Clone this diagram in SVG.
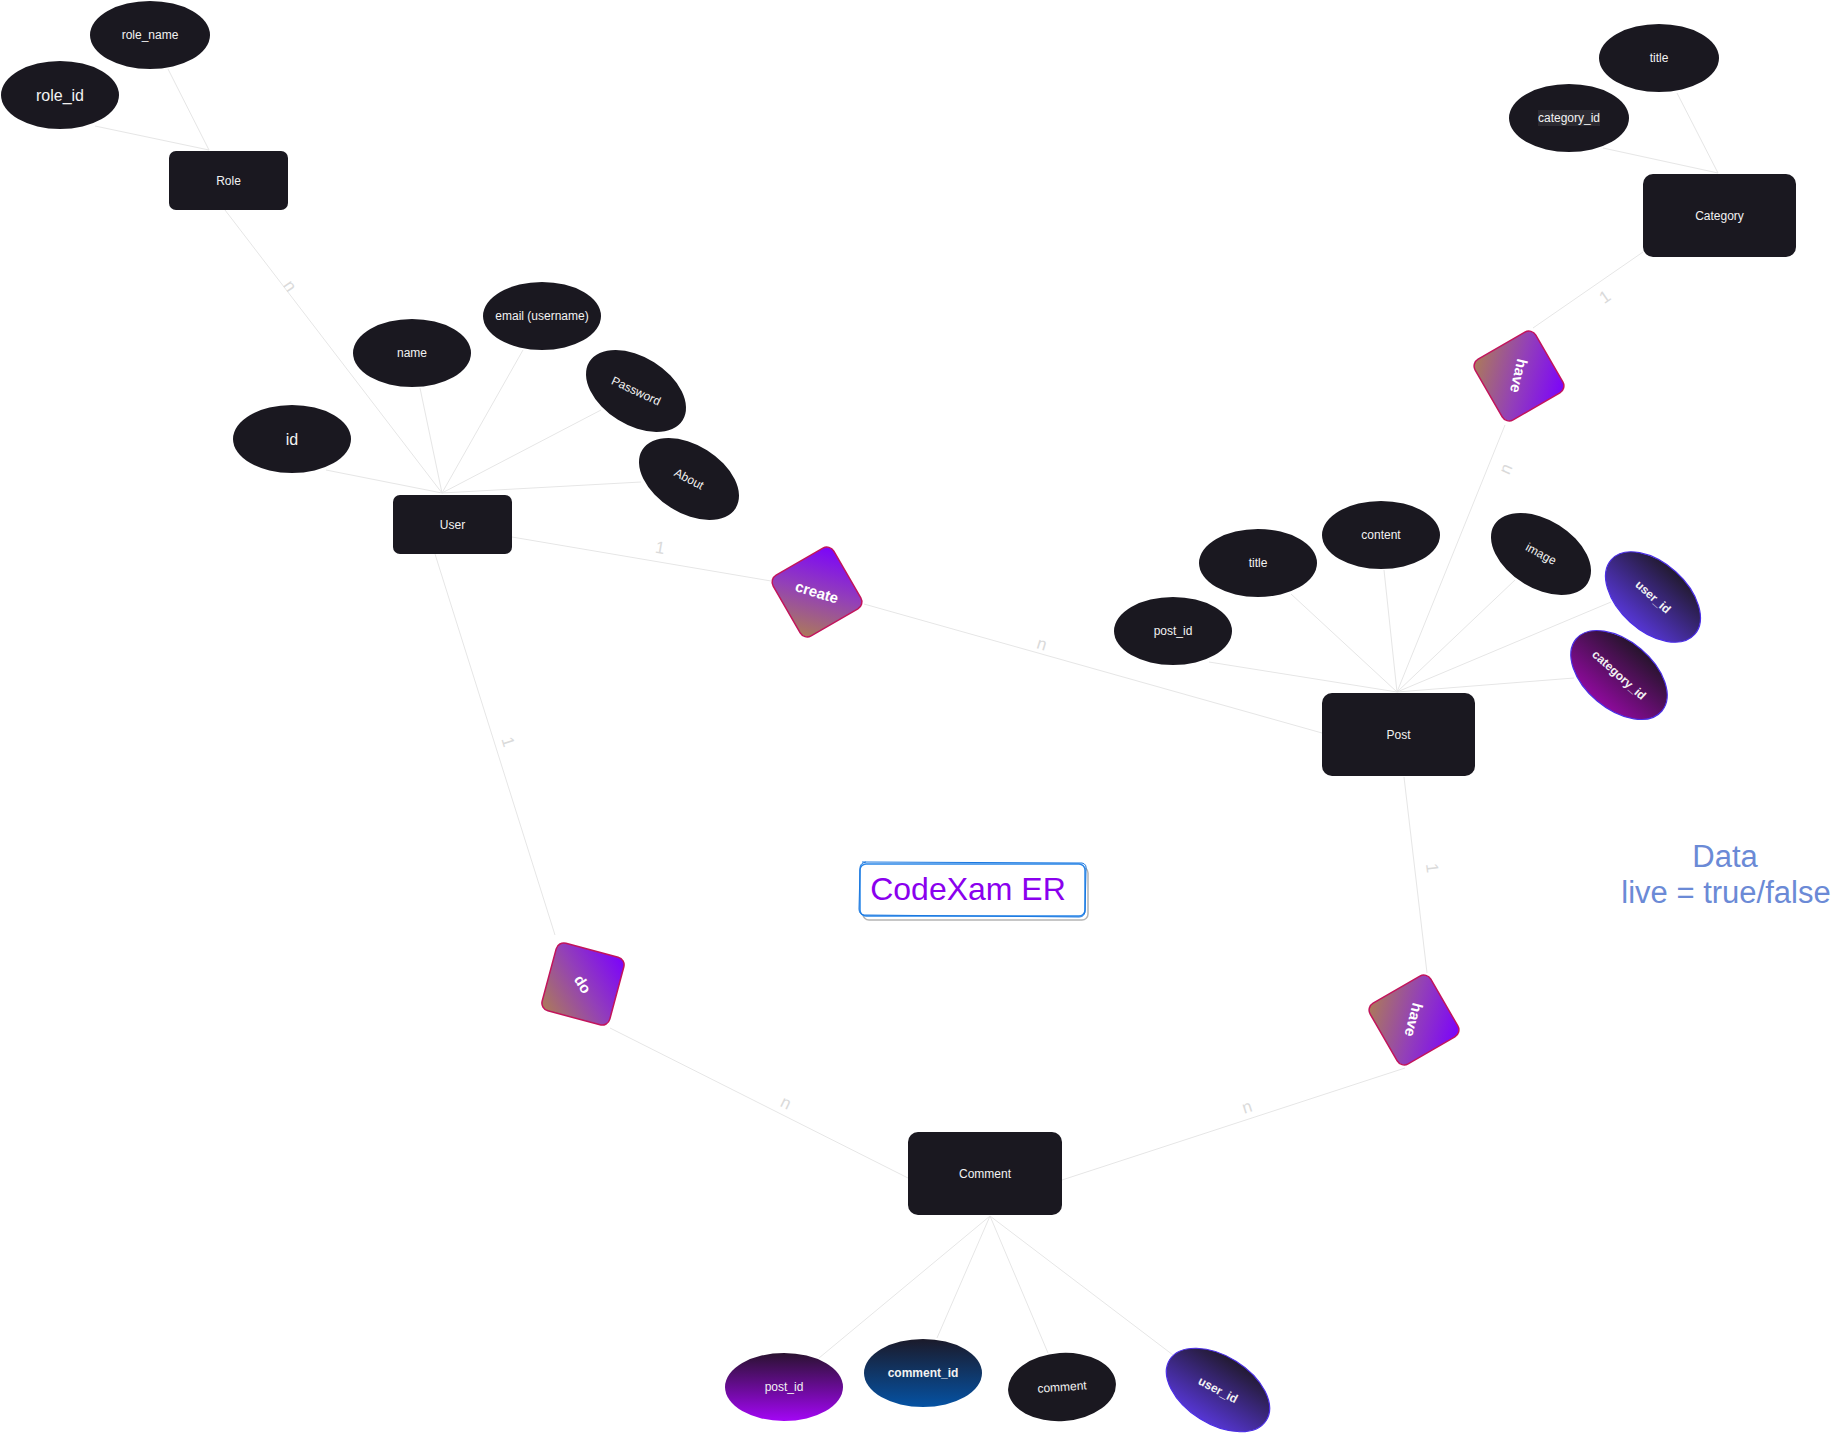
<svg xmlns="http://www.w3.org/2000/svg" width="1840" height="1449" viewBox="0 0 1840 1449">
<defs>
<style>
.ent{fill:#1a1820}
.att{fill:#1a1820}
.t{font-family:"Liberation Sans",Arial,sans-serif;font-size:12px;fill:#f2f2f2;text-anchor:middle;dominant-baseline:central}
.tb{font-size:16px}
.dt{font-family:"Liberation Sans",Arial,sans-serif;font-size:15px;font-weight:bold;fill:#ffffff;text-anchor:middle;dominant-baseline:central}
.dia{stroke:#c2145c;stroke-width:1.5}
.ln{stroke:#e6e6e6;stroke-width:1;fill:none}
.card{font-family:"Liberation Sans",Arial,sans-serif;font-size:17px;fill:#dadada;text-anchor:middle;dominant-baseline:central}
</style>
<linearGradient id="gA" x1="0" y1="1" x2="1" y2="0"><stop offset="0" stop-color="#ad7d55"/><stop offset="0.5" stop-color="#9340b8"/><stop offset="1" stop-color="#7a00ff"/></linearGradient>
<linearGradient id="gB" x1="0" y1="0" x2="1" y2="1"><stop offset="0" stop-color="#ad7d55"/><stop offset="0.5" stop-color="#9340b8"/><stop offset="1" stop-color="#7a00ff"/></linearGradient>
<linearGradient id="gUser" x1="0.5" y1="1" x2="0.5" y2="0"><stop offset="0" stop-color="#5636d4"/><stop offset="1" stop-color="#221a30"/></linearGradient>
<linearGradient id="gCat" x1="0.5" y1="1" x2="0.5" y2="0"><stop offset="0" stop-color="#8e0a9c"/><stop offset="1" stop-color="#26142c"/></linearGradient>
<linearGradient id="gPid" x1="0" y1="0" x2="0" y2="1"><stop offset="0" stop-color="#2a1230"/><stop offset="1" stop-color="#a306f5"/></linearGradient>
<linearGradient id="gCid" x1="0" y1="0" x2="0" y2="1"><stop offset="0" stop-color="#1b1a2a"/><stop offset="1" stop-color="#0552a3"/></linearGradient>
</defs>
<rect width="1840" height="1449" fill="#ffffff"/>

<g id="connectors">
<line class="ln" x1="168" y1="69" x2="209" y2="150"/>
<line class="ln" x1="95" y1="126" x2="209" y2="150"/>
<line class="ln" x1="225" y1="210" x2="442" y2="493"/>
<line class="ln" x1="326" y1="470" x2="442" y2="493"/>
<line class="ln" x1="420" y1="388" x2="442" y2="493"/>
<line class="ln" x1="523" y1="350" x2="442" y2="493"/>
<line class="ln" x1="601" y1="410" x2="442" y2="493"/>
<line class="ln" x1="641" y1="482" x2="442" y2="493"/>
<line class="ln" x1="512" y1="537" x2="771" y2="581"/>
<line class="ln" x1="864" y1="604" x2="1322" y2="733"/>
<line class="ln" x1="435" y1="554" x2="555" y2="935"/>
<line class="ln" x1="610" y1="1028" x2="908" y2="1178"/>
<line class="ln" x1="1643" y1="252" x2="1533" y2="328"/>
<line class="ln" x1="1505" y1="425" x2="1397" y2="692"/>
<line class="ln" x1="1404" y1="777" x2="1427" y2="973"/>
<line class="ln" x1="1405" y1="1068" x2="1062" y2="1180"/>
<line class="ln" x1="1209" y1="662" x2="1397" y2="692"/>
<line class="ln" x1="1291" y1="594" x2="1397" y2="692"/>
<line class="ln" x1="1384" y1="570" x2="1397" y2="692"/>
<line class="ln" x1="1515" y1="580" x2="1397" y2="692"/>
<line class="ln" x1="1611" y1="602" x2="1397" y2="692"/>
<line class="ln" x1="1574" y1="678" x2="1397" y2="692"/>
<line class="ln" x1="1677" y1="93" x2="1718" y2="173"/>
<line class="ln" x1="1603" y1="148" x2="1718" y2="173"/>
<line class="ln" x1="819" y1="1358" x2="990" y2="1216"/>
<line class="ln" x1="937" y1="1338" x2="990" y2="1216"/>
<line class="ln" x1="1048" y1="1353" x2="990" y2="1216"/>
<line class="ln" x1="1173" y1="1355" x2="990" y2="1216"/>
<text class="card" transform="translate(290,286) rotate(55)">n</text>
<text class="card" transform="translate(660,548) rotate(10)">1</text>
<text class="card" transform="translate(508,742) rotate(73)">1</text>
<text class="card" transform="translate(1042,644) rotate(17)">n</text>
<text class="card" transform="translate(1605,297) rotate(-35)">1</text>
<text class="card" transform="translate(1506,469) rotate(-66)">n</text>
<text class="card" transform="translate(1432,868) rotate(83)">1</text>
<text class="card" transform="translate(786,1103) rotate(26)">n</text>
<text class="card" transform="translate(1247,1107) rotate(-18)">n</text>
</g>

<g id="role_name"><ellipse class="att" cx="150" cy="35" rx="60" ry="34"/><text class="t" x="150" y="35">role_name</text></g>
<g id="role_id"><ellipse class="att" cx="60" cy="95" rx="59" ry="34"/><text class="t tb" x="60" y="95">role_id</text></g>
<g id="Role"><rect class="ent" x="169" y="151" width="119" height="59" rx="7"/><text class="t" x="228.5" y="180.5">Role</text></g>

<g id="id"><ellipse class="att" cx="292" cy="439" rx="59" ry="34"/><text class="t tb" x="292" y="439">id</text></g>
<g id="name"><ellipse class="att" cx="412" cy="353" rx="59" ry="34"/><text class="t" x="412" y="353">name</text></g>
<g id="email"><ellipse class="att" cx="542" cy="316" rx="59" ry="34"/><text class="t" x="542" y="316">email (username)</text></g>
<g id="Password" transform="translate(636,391)"><ellipse class="att" rx="55" ry="34" transform="rotate(32)"/><text class="t" transform="rotate(25)">Password</text></g>
<g id="About" transform="translate(689,479)"><ellipse class="att" rx="55" ry="34" transform="rotate(32)"/><text class="t" transform="rotate(28)">About</text></g>
<g id="User"><rect class="ent" x="393" y="495" width="119" height="59" rx="7"/><text class="t" x="452.5" y="524.5">User</text></g>

<g id="create" transform="translate(817,592)"><rect class="dia" x="-35" y="-35" width="70" height="70" rx="8" fill="url(#gA)" transform="rotate(-30)"/><text class="dt" transform="rotate(17)">create</text></g>

<g id="cat_title"><ellipse class="att" cx="1659" cy="58" rx="60" ry="34"/><text class="t" x="1659" y="58">title</text></g>
<g id="cat_category_id"><ellipse class="att" cx="1569" cy="118" rx="60" ry="34"/><rect x="1538" y="110" width="62" height="16" fill="#2c2a31"/><text class="t" x="1569" y="118">category_id</text></g>
<g id="Category"><rect class="ent" x="1643" y="174" width="153" height="83" rx="10"/><text class="t" x="1719.5" y="215.5">Category</text></g>

<g id="have_cat" transform="translate(1519,376)"><rect class="dia" x="-35" y="-35" width="70" height="70" rx="8" fill="url(#gB)" transform="rotate(-30)"/><text class="dt" transform="rotate(103)">have</text></g>

<g id="post_post_id"><ellipse class="att" cx="1173" cy="631" rx="59" ry="34"/><text class="t" x="1173" y="631">post_id</text></g>
<g id="post_title"><ellipse class="att" cx="1258" cy="563" rx="59" ry="34"/><text class="t" x="1258" y="563">title</text></g>
<g id="post_content"><ellipse class="att" cx="1381" cy="535" rx="59" ry="34"/><text class="t" x="1381" y="535">content</text></g>
<g id="post_image" transform="translate(1541,554)"><ellipse class="att" rx="55" ry="34" transform="rotate(32)"/><text class="t" transform="rotate(28)">image</text></g>
<g id="post_user_id" transform="translate(1653,597)"><ellipse rx="56" ry="34" fill="url(#gUser)" stroke="#4b2ee6" stroke-width="1.2" transform="rotate(42)"/><text class="t" style="font-weight:bold" transform="rotate(42)">user_id</text></g>
<g id="post_category_id" transform="translate(1619,675)"><ellipse rx="56" ry="34" fill="url(#gCat)" stroke="#4b2ee6" stroke-width="1.2" transform="rotate(40)"/><text class="t" style="font-weight:bold" transform="rotate(42)">category_id</text></g>
<g id="Post"><rect class="ent" x="1322" y="693" width="153" height="83" rx="10"/><text class="t" x="1398.5" y="734.5">Post</text></g>

<g id="do" transform="translate(583,984)"><rect class="dia" x="-35" y="-35" width="70" height="70" rx="8" fill="url(#gA)" transform="rotate(15)"/><text class="dt" transform="rotate(58)">do</text></g>
<g id="have_post" transform="translate(1414,1020)"><rect class="dia" x="-35" y="-35" width="70" height="70" rx="8" fill="url(#gB)" transform="rotate(-30)"/><text class="dt" transform="rotate(105)">have</text></g>

<g id="Comment"><rect class="ent" x="908" y="1132" width="154" height="83" rx="10"/><text class="t" x="985" y="1173.5">Comment</text></g>
<g id="cm_post_id"><ellipse cx="784" cy="1387" rx="59" ry="34" fill="url(#gPid)"/><text class="t" x="784" y="1387">post_id</text></g>
<g id="cm_comment_id"><ellipse cx="923" cy="1373" rx="59" ry="34" fill="url(#gCid)"/><text class="t" style="font-weight:bold" x="923" y="1373">comment_id</text></g>
<g id="cm_comment" transform="translate(1062,1387)"><ellipse class="att" rx="54" ry="34" transform="rotate(-4)"/><text class="t" transform="rotate(-4)">comment</text></g>
<g id="cm_user_id" transform="translate(1218,1390)"><ellipse rx="57" ry="34" fill="url(#gUser)" stroke="#4b2ee6" stroke-width="1.2" transform="rotate(32)"/><text class="t" style="font-weight:bold" transform="rotate(28)">user_id</text></g>

<g id="title_box">
<rect x="863" y="867" width="225" height="53" rx="6" fill="none" stroke="#b4b4b4" stroke-width="1.5"/>
<rect x="860" y="864" width="225" height="52" rx="6" fill="#ffffff" stroke="#2a86e8" stroke-width="1.5"/>
<path d="M862,862 L1082,863 Q1087,864 1086,870 L1085,912 Q1084,917 1079,917 L864,915 Q859,914 859,909 L860,868 Q860,863 866,862" fill="none" stroke="#1a78e0" stroke-width="1"/>
<text x="968" y="900" font-family="Liberation Sans, Arial, sans-serif" font-size="32" fill="#8a00ee" text-anchor="middle">CodeXam ER</text>
</g>

<g id="data_note">
<text x="1725" y="867" font-family="Liberation Sans, Arial, sans-serif" font-size="31" fill="#6b8ad6" text-anchor="middle">Data</text>
<text x="1726" y="903" font-family="Liberation Sans, Arial, sans-serif" font-size="31" fill="#6b8ad6" text-anchor="middle">live = true/false</text>
</g>
</svg>
